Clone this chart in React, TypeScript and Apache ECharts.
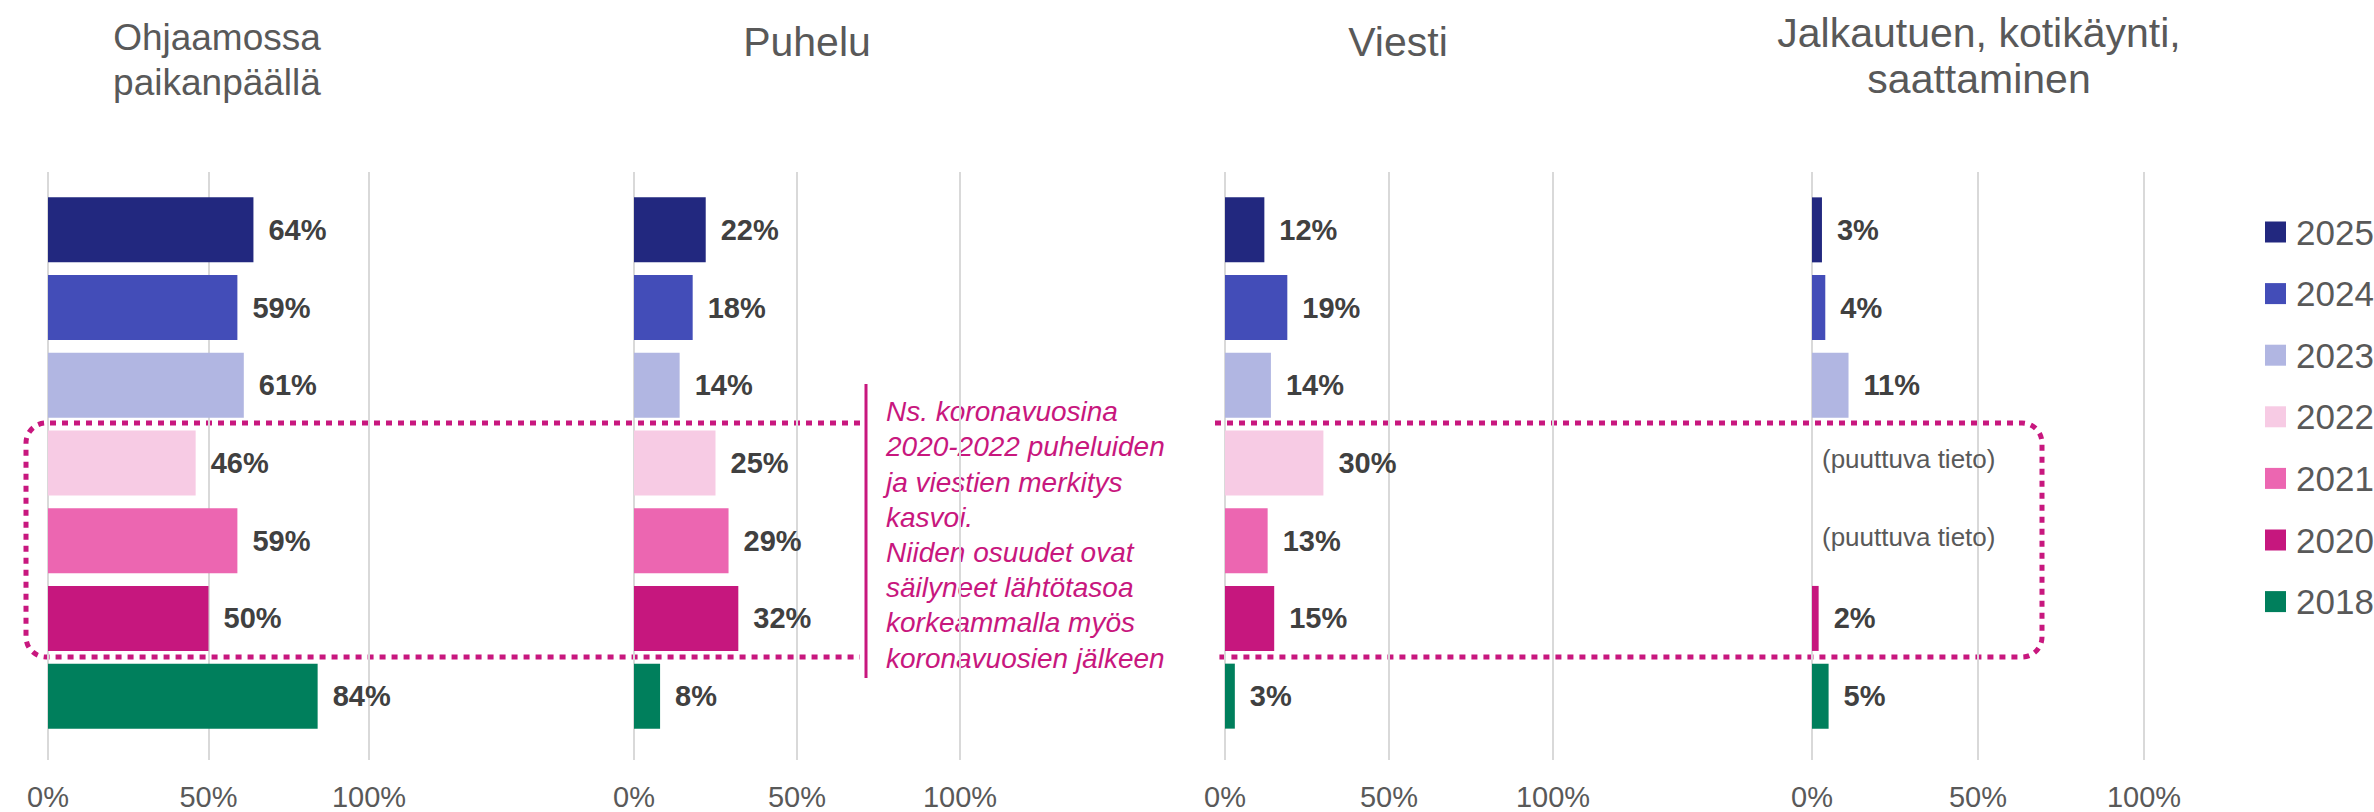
import React, { useEffect, useRef } from 'react';
import * as echarts from 'echarts';

// ---------- data ----------
const years = ['2025', '2024', '2023', '2022', '2021', '2020', '2018'];
const yearColors = ['#22287F', '#434DB8', '#B1B6E2', '#F7CBE4', '#EC66B1', '#C6177E', '#007F5C'];
const panelTitles = ['Ohjaamossa\npaikanpäällä', 'Puhelu', 'Viesti', 'Jalkautuen, kotikäynti,\nsaattaminen'];
const ohjaamossa = [64, 59, 61, 46, 59, 50, 84];
const puhelu = [22, 18, 14, 25, 29, 32, 8];
const viesti = [12, 19, 14, 30, 13, 15, 3];
const jalkautuen: (number | null)[] = [3, 4, 11, null, null, 2, 5];
const xTicks = [0, 50, 100];
const missingText = '(puuttuva tieto)';
const noteLines = [
  'Ns. koronavuosina',
  '2020-2022 puheluiden',
  'ja viestien merkitys',
  'kasvoi.',
  'Niiden osuudet ovat',
  'säilyneet lähtötasoa',
  'korkeammalla myös',
  'koronavuosien jälkeen',
];

const panelValues = [ohjaamossa, puhelu, viesti, jalkautuen];

// ---------- layout ----------
const W = 2374;
const H = 812;
const panelLeft = [48, 634, 1225, 1812];
const panelWidth = [321, 326, 328, 332];
const barTop = 191;
const barHeightTotal = 544;
const lineTop = 172;
const lineBottom = 760;
const titleCenters = [217, 807, 1398, 1979];
const titleTops = [15, 19, 19, 10];
const titleSizes = [37, 41, 41, 41];
const titleLineHeights = [45, 46, 46, 46];
const FONT = 'Liberation Sans, Arial, sans-serif';
const MAGENTA = '#C8177E';

const boxPath =
  'M 860 423 L 46 423 A 20 20 0 0 0 26 443 L 26 637 A 20 20 0 0 0 46 657 L 860 657 ' +
  'M 1215 423 L 2022 423 A 20 20 0 0 1 2042 443 L 2042 637 A 20 20 0 0 1 2022 657 L 1215 657';

let registered = false;
function registerShapes() {
  if (registered) return;
  registered = true;
  echarts.graphic.registerShape('dottedBox', echarts.graphic.extendPath(boxPath, {}) as any);
}

function buildOption() {
  const grid: any[] = [];
  const xAxis: any[] = [];
  const yAxis: any[] = [];
  const series: any[] = [];

  panelValues.forEach((vals, p) => {
    const left = panelLeft[p];
    const width = panelWidth[p];
    grid.push({ left, width, top: barTop, height: barHeightTotal, containLabel: false });
    grid.push({ left, width, top: lineTop, height: lineBottom - lineTop, containLabel: false });

    xAxis.push({ gridIndex: 2 * p, type: 'value', min: 0, max: 100, show: false });
    xAxis.push({
      gridIndex: 2 * p + 1, type: 'value', min: xTicks[0], max: xTicks[xTicks.length - 1], interval: 50,
      axisLine: { show: false }, axisTick: { show: false },
      splitLine: { show: true, lineStyle: { color: '#D9D9D9', width: 2 } },
      axisLabel: { formatter: '{value}%', fontSize: 29, color: '#595959', fontFamily: FONT, margin: 22 },
    });
    yAxis.push({ gridIndex: 2 * p, type: 'category', data: years, inverse: true, show: false });
    yAxis.push({ gridIndex: 2 * p + 1, type: 'value', min: 0, max: 1, show: false });

    years.forEach((yr, i) => {
      const data = years.map((_, j) => {
        if (j !== i) return null;
        const v = vals[j];
        if (v === null) {
          return {
            value: 0,
            label: {
              show: true, formatter: missingText, fontWeight: 'normal', fontSize: 26,
              color: '#595959', distance: 10, offset: [0, -4],
            },
          };
        }
        return v;
      });
      series.push({
        type: 'bar', name: yr, xAxisIndex: 2 * p, yAxisIndex: 2 * p,
        data, barWidth: 65, barGap: '-100%',
        itemStyle: { color: yearColors[i] },
        label: {
          show: true, position: 'right', distance: 15, formatter: '{c}%',
          fontWeight: 'bold', fontSize: 29, color: '#404040', fontFamily: FONT,
        },
        silent: true,
      });
    });
  });

  const graphic: any[] = [];
  panelTitles.forEach((t, p) => {
    graphic.push({
      type: 'text', x: titleCenters[p], y: titleTops[p],
      style: {
        text: t, align: 'center', verticalAlign: 'top', fill: '#595959',
        fontSize: titleSizes[p], lineHeight: titleLineHeights[p], fontFamily: FONT,
      },
    });
  });
  graphic.push({
    type: 'dottedBox', x: 0, y: 0,
    style: { fill: 'none', stroke: MAGENTA, lineWidth: 5, lineDash: [6, 6] },
  });
  graphic.push({
    type: 'line', shape: { x1: 866, y1: 384, x2: 866, y2: 678 },
    style: { stroke: MAGENTA, lineWidth: 3 },
  });
  graphic.push({
    type: 'text', x: 886, y: 394,
    style: {
      text: noteLines.join('\n'), align: 'left', verticalAlign: 'top', fill: MAGENTA,
      fontSize: 28, lineHeight: 35.2, fontStyle: 'italic', fontFamily: FONT,
    },
  });

  return {
    animation: false,
    backgroundColor: '#FFFFFF',
    grid, xAxis, yAxis, series, graphic,
    legend: {
      data: years, orient: 'vertical', left: 2260, top: 209,
      icon: 'rect', itemWidth: 21, itemHeight: 21, itemGap: 25.6,
      selectedMode: false,
      textStyle: { fontSize: 35, color: '#595959', fontFamily: FONT, lineHeight: 36, padding: [0, 0, 0, 5] },
    },
  };
}

export default function App() {
  const ref = useRef<HTMLDivElement>(null);
  useEffect(() => {
    document.body.style.margin = '0';
    registerShapes();
    const chart = echarts.init(ref.current!, undefined, { renderer: 'svg', width: W, height: H });
    chart.setOption(buildOption() as any);
    return () => chart.dispose();
  }, []);
  return <div ref={ref} style={{ width: W, height: H }} />;
}
